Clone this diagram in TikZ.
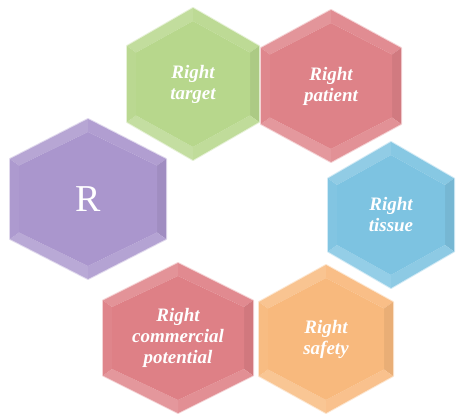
\documentclass[tikz,border=0pt]{standalone}
\usepackage{fontspec}
\setmainfont{Liberation Serif}
\definecolor{hexgreen}{HTML}{B7D78C}
\definecolor{hexrose}{HTML}{DE8288}
\definecolor{hexlilac}{HTML}{AA96CD}
\definecolor{hexsky}{HTML}{7DC3E1}
\definecolor{hexcoral}{HTML}{DE8086}
\definecolor{hexpeach}{HTML}{F8B97D}
\tikzset{
  lbl/.style={text=white, align=center, font=\fontsize{19}{21}\selectfont\bfseries\itshape, inner sep=0pt},
  bigletter/.style={text=white, font=\fontsize{38}{40}\selectfont, inner sep=0pt},
}
% bevelled hexagon: name, centre x, centre y, radius, half width, colour, label style, label
\newcommand{\hexcell}[8]{%
  \begin{scope}[shift={(#2,#3)}]
    \pgfmathsetmacro\hexRo{#4}\pgfmathsetmacro\hexWo{#5}
    \pgfmathsetmacro\hexRi{#4-13}\pgfmathsetmacro\hexWi{#5-9}
    \pgfmathsetmacro\hexHo{#4/2}\pgfmathsetmacro\hexHi{(#4-13)/2}
    \coordinate (#1-ot) at (0,-\hexRo);
    \coordinate (#1-our) at (\hexWo,-\hexHo);
    \coordinate (#1-olr) at (\hexWo,\hexHo);
    \coordinate (#1-ob) at (0,\hexRo);
    \coordinate (#1-oll) at (-\hexWo,\hexHo);
    \coordinate (#1-oul) at (-\hexWo,-\hexHo);
    \coordinate (#1-it) at (0,-\hexRi);
    \coordinate (#1-iur) at (\hexWi,-\hexHi);
    \coordinate (#1-ilr) at (\hexWi,\hexHi);
    \coordinate (#1-ib) at (0,\hexRi);
    \coordinate (#1-ill) at (-\hexWi,\hexHi);
    \coordinate (#1-iul) at (-\hexWi,-\hexHi);
    % soft halo
    \draw[#6!35!white, line width=2pt, line join=round]
      (#1-ot) -- (#1-our) -- (#1-olr) -- (#1-ob) -- (#1-oll) -- (#1-oul) -- cycle;
    % bevel facets
    \fill[#6!85!white] (#1-oul) -- (#1-ot) -- (#1-it) -- (#1-iul) -- cycle;
    \fill[#6!92!white] (#1-ot) -- (#1-our) -- (#1-iur) -- (#1-it) -- cycle;
    \fill[#6!94!black] (#1-our) -- (#1-olr) -- (#1-ilr) -- (#1-iur) -- cycle;
    \fill[#6!88!white] (#1-olr) -- (#1-ob) -- (#1-ib) -- (#1-ilr) -- cycle;
    \fill[#6!82!white] (#1-ob) -- (#1-oll) -- (#1-ill) -- (#1-ib) -- cycle;
    \fill[#6!96!white] (#1-oll) -- (#1-oul) -- (#1-iul) -- (#1-ill) -- cycle;
    % face
    \fill[#6] (#1-it) -- (#1-iur) -- (#1-ilr) -- (#1-ib) -- (#1-ill) -- (#1-iul) -- cycle;
    \node[#7] (#1) at (0,0) {#8};
  \end{scope}}
\begin{document}
\begin{tikzpicture}[x=1pt,y=-1pt]
  \useasboundingbox (0,0) rectangle (458,415);
  \hexcell{target}{193}{84}{76}{66}{hexgreen}{lbl}{Right\\target}
  \hexcell{patient}{331}{86}{76}{70}{hexrose}{lbl}{Right\\patient}
  \hexcell{rr}{88}{199}{80}{78}{hexlilac}{bigletter}{R}
  \hexcell{tissue}{391}{215}{73}{63}{hexsky}{lbl}{Right\\tissue}
  \hexcell{commercial}{178}{338}{75}{75}{hexcoral}{lbl}{Right\\commercial\\potential}
  \hexcell{safety}{326}{339}{74}{67}{hexpeach}{lbl}{Right\\safety}
\end{tikzpicture}
\end{document}
